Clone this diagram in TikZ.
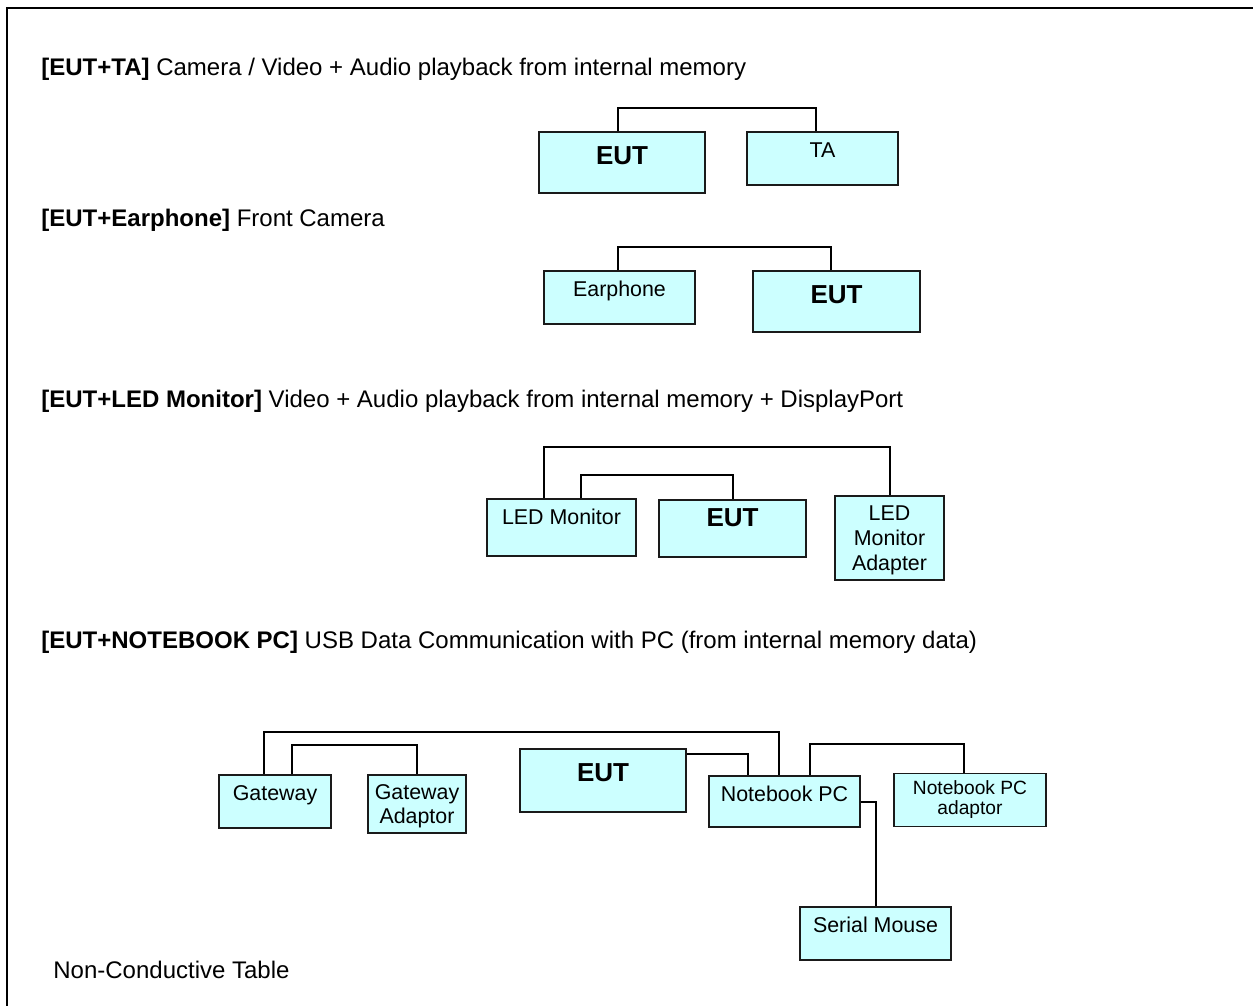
\documentclass[tikz,border=0pt]{standalone}
\usepackage{fontspec}
\setmainfont{Liberation Sans}
\usepackage{tikz}

\definecolor{boxcyan}{HTML}{CCFFFF}
\definecolor{edgegray}{HTML}{1A1A1A}

\begin{document}
\begin{tikzpicture}[x=0.5pt, y=-0.5pt,
			      unit/.style={rectangle, draw=edgegray, fill=boxcyan, line width=0.75pt, inner sep=0pt,
				      font=\fontsize{10.7}{12.4}\selectfont, align=center},
			      eut/.style={unit, font=\fontsize{13}{15}\selectfont\bfseries},
			      lift/.style={text height=1.38ex, text depth=#1},
			      header/.style={anchor=west, inner sep=0pt, font=\fontsize{12}{14}\selectfont},
			      cable/.style={draw=black, line width=1pt}]
		      \useasboundingbox (0,0) rectangle (1253,1006);
		      \clip (0,0) rectangle (1253,1006);
		      \draw[line width=1pt] (7,1020) -- (7,8) -- (1270,8);

		      \node[header] (hdrTA) at (41,69.5) {\textbf{[EUT+TA]} Camera / Video + Audio playback from internal memory};
		      \node[eut, minimum width=83pt, minimum height=30.5pt, lift=5.5pt] (eutA) at (622,162.5) {EUT};
		      \node[unit, minimum width=75.5pt, minimum height=26.5pt, lift=8.5pt] (ta) at (822.5,158.5) {TA};
		      \draw[cable] ([xshift=-2pt]eutA.north) -- ++(0,-23) -| ([xshift=-3.25pt]ta.north);

		      \node[header] (hdrEar) at (41,220.5) {\textbf{[EUT+Earphone]} Front Camera};
		      \node[unit, minimum width=75.5pt, minimum height=26.5pt, lift=8.5pt] (ear) at (619.5,297.5) {Earphone};
		      \node[eut, minimum width=83.5pt, minimum height=30.5pt, lift=5.5pt] (eutB) at (836.5,301.5) {EUT};
		      \draw[cable] ([xshift=-0.75pt]ear.north) -- ++(0,-23) -| ([xshift=-2.75pt]eutB.north);

		      \node[header] (hdrLed) at (41,401.5) {\textbf{[EUT+LED Monitor]} Video + Audio playback from internal memory + DisplayPort};
		      \node[unit, minimum width=74.5pt, minimum height=28.5pt, lift=10.5pt] (led) at (561.5,527.5) {LED Monitor};
		      \node[eut, minimum width=73.5pt, minimum height=28.5pt, lift=9.5pt] (eutC) at (732.5,528.5) {EUT};
		      \node[unit, minimum width=54.5pt, minimum height=42pt, text depth=0pt] (ledAd) at (889.5,538) {LED\\Monitor\\Adapter};
		      \draw[cable] ([xshift=-8.75pt]led.north) -- ++(0,-51) -| (ledAd.north);
		      \draw[cable] ([xshift=9.75pt]led.north) -- ++(0,-23) -| (eutC.north);

		      \node[header] (hdrPc) at (41,642.5) {\textbf{[EUT+NOTEBOOK PC]} USB Data Communication with PC (from internal memory data)};
		      \node[unit, minimum width=56pt, minimum height=26.5pt, lift=8.5pt] (gw) at (275,801.5) {Gateway};
		      \node[unit, minimum width=49pt, minimum height=29pt, text depth=0pt] (gwAd) at (417,804) {Gateway\\Adaptor};
		      \node[eut, minimum width=83pt, minimum height=31.5pt, lift=6.5pt] (eutD) at (603,780.5) {EUT};
		      \node[unit, minimum width=75.5pt, minimum height=25.5pt, lift=7.5pt] (npc) at (784.5,801.5) {Notebook PC};
		      \node[unit, minimum width=76pt, minimum height=26.5pt, font=\fontsize{9.6}{10}\selectfont] (npcAd) at (970,800) {Notebook PC\\adaptor};
		      \node[unit, minimum width=75.5pt, minimum height=26.5pt, lift=8.5pt] (mouse) at (875.5,933.5) {Serial Mouse};
		      \draw[cable] ([xshift=-5.5pt]gw.north) -- ++(0,-42) -| ([xshift=-2.75pt]npc.north);
		      \draw[cable] ([xshift=8.5pt]gw.north) -- ++(0,-29) -| (gwAd.north);
		      \draw[cable] ([yshift=13.25pt]eutD.east) -| ([xshift=-18.25pt]npc.north);
		      \draw[cable] ([xshift=12.75pt]npc.north) -- ++(0,-31) -| ([xshift=-3pt]npcAd.north);
		      \draw[cable] (npc.east) -| (mouse.north);

		      \node[header] (table) at (53,969.5) {Non-Conductive Table};
	      \end{tikzpicture}
\end{document}
